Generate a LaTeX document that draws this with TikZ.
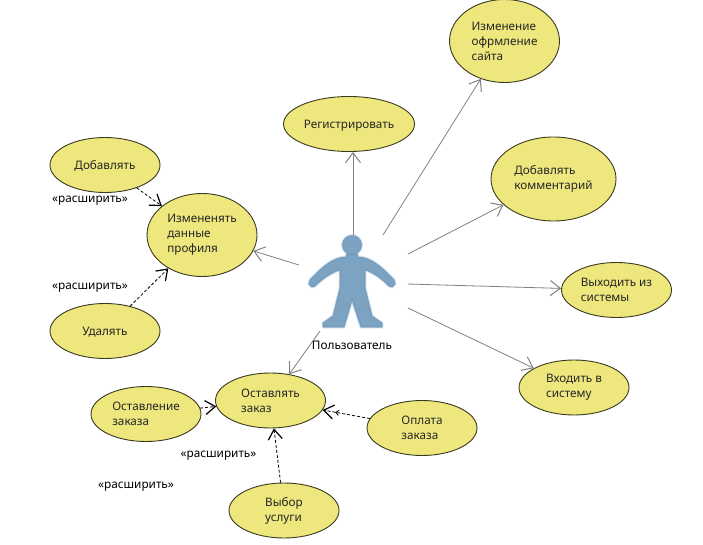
\documentclass[tikz,border=0pt]{standalone}
\usepackage{fontspec}
\setmainfont{Noto Sans}
\usetikzlibrary{shapes.geometric,arrows.meta}
\definecolor{ucfill}{HTML}{EDE77E}
\definecolor{ucline}{HTML}{3A3A20}
\definecolor{actorc}{HTML}{7099BC}
\definecolor{assoc}{HTML}{808080}
\tikzset{
  usecase/.style={ellipse,draw=ucline,fill=ucfill,line width=0.9pt,inner sep=0pt,minimum width=110pt,minimum height=55pt,align=left,text=black!85,font=\fontsize{11.7}{15}\selectfont},
  onecase/.style={usecase,text height=9pt,text depth=0pt},
  assocline/.style={draw=assoc,line width=0.8pt,-{Straight Barb[length=10pt,width=15pt,line width=1pt]}},
  depline/.style={draw=black,line width=0.8pt,dash pattern=on 3pt off 2pt,-{Straight Barb[length=10pt,width=14pt,line width=1.2pt]}},
  depdouble/.style={draw=black,line width=0.8pt,dash pattern=on 3pt off 2pt,-{Straight Barb[length=3pt,width=5pt,line width=0.8pt,sep=1pt] Straight Barb[length=10pt,width=14pt,line width=1.2pt]}},
  lbl/.style={inner sep=0pt,font=\fontsize{11.8}{15}\selectfont,text=black,text height=9pt,text depth=0pt}
}
\begin{document}
\begin{tikzpicture}[x=1pt,y=-1pt]
\useasboundingbox (0,0) rectangle (703,545);
% actor, soft edge built from layered strokes
\foreach \w/\o in {3/0.22,1.6/0.4,0.4/0.8}{
  \filldraw[actorc,opacity=\o,line width=\w pt,line join=round]
    (352,245) circle[radius=9.5];
  \filldraw[actorc,opacity=\o,line width=\w pt,line join=round]
    (347,254) -- (357,254) -- (358,257)
    .. controls (370,257) and (381,266) .. (394,280)
    -- (395,284) -- (392,287) -- (389,286)
    .. controls (382,279) and (373,272) .. (365,270)
    -- (365,288) -- (372,316) -- (382,323) -- (382,327) -- (361,327) -- (352,300)
    -- (344,327) -- (323,327) -- (323,323) -- (333,316) -- (340,288) -- (340,270)
    .. controls (332,272) and (322,279) .. (315,286)
    -- (312,287) -- (309,284) -- (310,280)
    .. controls (323,266) and (334,257) .. (346,257) -- cycle;
}
% use cases
\node[onecase] (dob) at (105,165) {Добавлять};
\node[usecase,minimum height=83pt] (izm) at (202,235) {Измененять\\данные\\профиля};
\node[onecase] (udl) at (105,331) {Удалять};
\node[usecase] (ost) at (270.5,400.5) {Оставлять\\заказ};
\node[usecase] (ovl) at (146,414) {Оставление\\заказа};
\node[usecase] (opl) at (422,428) {Оплата\\заказа};
\node[usecase] (vyb) at (284,510.5) {Выбор\\услуги};
\node[onecase,minimum width=131pt] (reg) at (349,124) {Регистрировать};
\node[usecase,minimum height=83pt] (sty) at (504.5,41) {Изменение\\офрмление\\сайта};
\node[usecase,minimum width=125pt,minimum height=84pt] (kom) at (553.5,179) {Добавлять\\комментарий};
\node[usecase] (vyh) at (616.5,290) {Выходить из\\системы};
\node[usecase] (vho) at (574,387.5) {Входить в\\систему};
% actor label
\node[lbl] (act) at (352,344.5) {Пользователь};
% free ends by the actor
\coordinate (a1) at (353,235);
\coordinate (a2) at (383,235);
\coordinate (a3) at (408,254);
\coordinate (a4) at (408,284);
\coordinate (a5) at (408,308);
\coordinate (a6) at (299,265);
\coordinate (a7) at (320,331);
% associations
\draw[assocline] (a1) -- (a1 |- reg.south);
\draw[assocline] (a2) -- (sty);
\draw[assocline] (a3) -- (kom);
\draw[assocline] (a4) -- (vyh);
\draw[assocline] (a5) -- (vho);
\draw[assocline] (a6) -- (izm);
\draw[assocline] (a7) -- (ost);
% dependencies
\draw[depline] (dob) -- (izm);
\draw[depline] (udl) -- (izm);
\draw[depline] (ovl) -- (ost);
\draw[depdouble] (opl) -- (ost);
\draw[depline] (vyb) -- (ost);
% stereotype labels
\node[lbl] (e1) at (90,198) {«расширить»};
\node[lbl] (e2) at (90,285) {«расширить»};
\node[lbl] (e3) at (218.5,453) {«расширить»};
\node[lbl] (e4) at (136,484) {«расширить»};
\end{tikzpicture}
\end{document}
